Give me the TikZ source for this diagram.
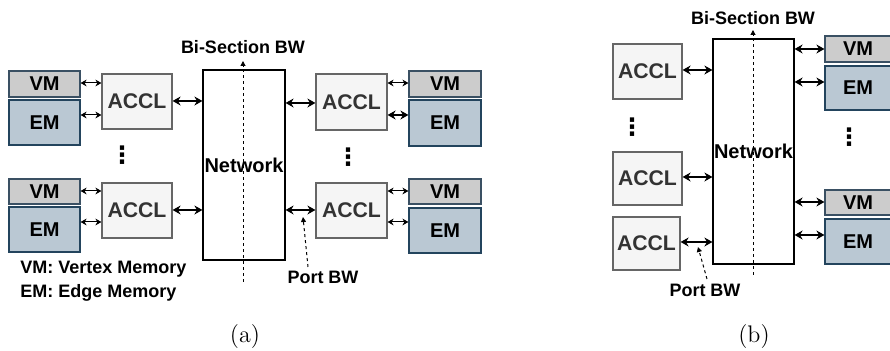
\documentclass[tikz,border=0pt]{standalone}
\usepackage{fontspec}
\newfontfamily\arialf{Liberation Sans}
\newfontfamily\dejavuf{DejaVu Sans}
\usetikzlibrary{arrows.meta}
\definecolor{acclfill}{HTML}{F5F5F5}
\definecolor{acclline}{HTML}{666666}
\definecolor{accltext}{HTML}{333333}
\definecolor{vmfill}{HTML}{CCCCCC}
\definecolor{vmline}{HTML}{3A5063}
\definecolor{emfill}{HTML}{BAC8D3}
\definecolor{emline}{HTML}{23445D}
\begin{document}
\begin{tikzpicture}[x=0.5pt,y=-0.5pt,
  box/.style={inner sep=0pt, line width=0.6pt, font=\arialf\bfseries\fontsize{10}{12}\selectfont},
  sz/.style 2 args={minimum width=#1, minimum height=#2},
  accl/.style={box, fill=acclfill, draw=acclline, text=accltext, font=\arialf\bfseries\fontsize{10.6}{12}\selectfont},
  vm/.style={box, fill=vmfill, draw=vmline},
  em/.style={box, fill=emfill, draw=emline},
  net/.style={box, fill=white, draw=black, font=\arialf\bfseries\fontsize{10}{12}\selectfont},
  lbl/.style={inner sep=0pt, font=\arialf\bfseries\fontsize{9}{11}\selectfont},
  thk/.style={line width=1pt, {Stealth[length=4pt,width=4.5pt]}-{Stealth[length=4pt,width=4.5pt]}},
  thn/.style={line width=0.5pt, {Stealth[length=3pt,width=3.4pt]}-{Stealth[length=3pt,width=3.4pt]}},
  dsh/.style={line width=0.5pt, dash pattern=on 1.5pt off 1.5pt, -{Triangle[length=2.5pt,width=2.5pt]}},
  vdot/.style={inner sep=0pt, font=\dejavuf\bfseries\fontsize{12}{13}\selectfont},
  capt/.style={inner sep=0pt, font=\fontsize{12}{14}\selectfont}]
\useasboundingbox (0,0) rectangle (890,351);

% ---------------- (a) ----------------
\node[net, sz={41pt}{95pt}] (neta) at (244,165) {Network};
\node[vm, sz={35.5pt}{13pt}] (vma1) at (44.5,84) {VM};
\node[em, sz={35.5pt}{22.5pt}] (ema1) at (44.5,122.5) {EM};
\node[vm, sz={35.5pt}{12.5pt}] (vma2) at (44.5,191.5) {VM};
\node[em, sz={35.5pt}{22.5pt}] (ema2) at (44.5,229.5) {EM};
\node[accl, sz={35pt}{27.5pt}] (accla1) at (137,101.5) {ACCL};
\node[accl, sz={35pt}{27.5pt}] (accla2) at (137,210.5) {ACCL};
\node[accl, sz={35.5pt}{28pt}] (accla3) at (351.5,102) {ACCL};
\node[accl, sz={35.5pt}{27.5pt}] (accla4) at (351.5,210.5) {ACCL};
\node[vm, sz={36pt}{13pt}] (vma3) at (445,84) {VM};
\node[em, sz={36pt}{23pt}] (ema3) at (445,123) {EM};
\node[vm, sz={36pt}{12.5pt}] (vma4) at (445,191.5) {VM};
\node[em, sz={36pt}{22.5pt}] (ema4) at (445,230.5) {EM};
\node[vdot] (dota1) at (122,155) {⋮};
\node[vdot] (dota2) at (348,157) {⋮};

\draw[thn] (vma1.east |- 0,83) -- (accla1.west |- 0,83);
\draw[thn] (ema1.east |- 0,115) -- (accla1.west |- 0,115);
\draw[thn] (vma2.east |- 0,191) -- (accla2.west |- 0,191);
\draw[thn] (ema2.east |- 0,222) -- (accla2.west |- 0,222);
\draw[thk] (accla1.east |- 0,101) -- (neta.west |- 0,101);
\draw[thk] (accla2.east |- 0,210) -- (neta.west |- 0,210);
\draw[thk] (neta.east |- 0,103) -- (accla3.west |- 0,103);
\draw[thk] (neta.east |- 0,210) -- (accla4.west |- 0,210);
\draw[thn] (accla3.east |- 0,83) -- (vma3.west |- 0,83);
\draw[thk, line width=0.8pt] (accla3.east |- 0,115) -- (ema3.west |- 0,115);
\draw[thn] (accla4.east |- 0,191) -- (vma4.west |- 0,191);
\draw[thn] (accla4.east |- 0,222) -- (ema4.west |- 0,222);

\node[lbl] (bisa) at (243,47) {Bi-Section BW};
\coordinate (bisas) at (243,282);
\coordinate (bisae) at (243,61);
\draw[dsh] (bisas) -- (bisae);

\node[lbl] (porta) at (323,277) {Port BW};
\coordinate (portas) at (308,267);
\coordinate (portae) at (303,217);
\draw[dsh] (portas) -- (portae);

\node[lbl, anchor=west] (lega) at (20,269) {VM: Vertex Memory};
\node[lbl, anchor=west] (legb) at (20,293) {EM: Edge Memory};

\node[capt] (capa) at (245,337) {(a)};

% ---------------- (b) ----------------
\node[net, sz={40.5pt}{112.5pt}] (netb) at (753.5,151.5) {Network};
\node[accl, sz={34.5pt}{27.5pt}] (acclb1) at (647.5,71.5) {ACCL};
\node[accl, sz={34.5pt}{26.5pt}] (acclb2) at (647.5,178.5) {ACCL};
\node[accl, sz={33.5pt}{26.5pt}] (acclb3) at (646.5,243.5) {ACCL};
\node[vm, sz={33pt}{13pt}] (vmb1) at (858,49) {VM};
\node[em, sz={33pt}{22pt}] (emb1) at (858,88) {EM};
\node[vm, sz={33pt}{12.5pt}] (vmb2) at (858,202.5) {VM};
\node[em, sz={33pt}{22.5pt}] (emb2) at (858,241.5) {EM};
\node[vdot] (dotb1) at (632,127) {⋮};
\node[vdot] (dotb2) at (849,137) {⋮};

\draw[thk] (acclb1.east |- 0,70) -- (netb.west |- 0,70);
\draw[thk] (acclb2.east |- 0,177) -- (netb.west |- 0,177);
\draw[thk] (acclb3.east |- 0,242) -- (netb.west |- 0,242);
\draw[thk] (netb.east |- 0,49) -- (vmb1.west |- 0,49);
\draw[thk] (netb.east |- 0,82) -- (emb1.west |- 0,82);
\draw[thk] (netb.east |- 0,202) -- (vmb2.west |- 0,202);
\draw[thk] (netb.east |- 0,235) -- (emb2.west |- 0,235);

\node[lbl] (bisb) at (753,18) {Bi-Section BW};
\coordinate (bisbs) at (753,275);
\coordinate (bisbe) at (753,30);
\draw[dsh] (bisbs) -- (bisbe);

\node[lbl] (portb) at (705,290) {Port BW};
\coordinate (portbs) at (707,279);
\coordinate (portbe) at (698,247);
\draw[dsh] (portbs) -- (portbe);

\node[capt] (capb) at (754,337) {(b)};
\end{tikzpicture}
\end{document}
